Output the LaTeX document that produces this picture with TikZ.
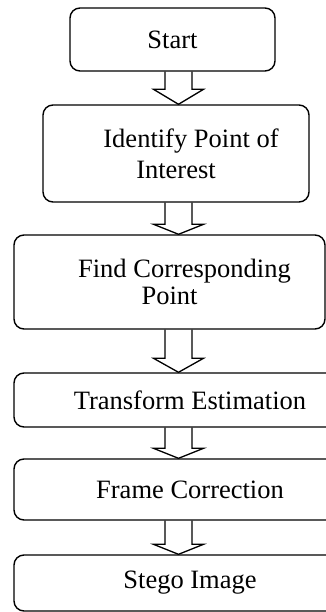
\documentclass[tikz,border=0pt]{standalone}
\usepackage{fontspec}
\setmainfont{Liberation Serif}
\usepackage{tikz}
\usetikzlibrary{calc}
\tikzset{
  bx/.style={draw=black,line width=1.4pt,rounded corners=10pt,align=center,
             inner sep=0pt,font=\fontsize{26.5}{31}\selectfont},
  hollow/.style={draw=black,line width=1.3pt,line join=miter,
    to path={
      ($(\tikztostart.south -| axis)+(-13.5,0)$)
        -- ($(\tikztotarget.north -| axis)+(-13.5,#1)$) -- ++(-11.5,0)
        -- (\tikztotarget.north -| axis) -- ++(25,#1) -- ++(-11.5,0)
        -- ($(\tikztostart.south -| axis)+(13.5,0)$)
    }},
}
\begin{document}
\begin{tikzpicture}[x=1pt,y=1pt]
  \useasboundingbox (0,0) rectangle (326,-612);
  \clip (0,0) rectangle (326,-612);
  \coordinate (axis) at (178.5,0);

  \node[bx,minimum width=205pt,minimum height=63pt] (start) at (172.5,-39.5) {Start};
  \node[bx,minimum width=266pt,minimum height=97pt] (ident) at (176,-153.5)
    {\hspace*{30pt}Identify Point of\\Interest};
  \node[bx,minimum width=311pt,minimum height=94pt] (match) at (169.5,-282)
    {\hspace*{30pt}Find Corresponding\\[-4pt]Point};
  % the last three boxes run past the right edge of the page
  \node[bx,minimum width=352pt,minimum height=54pt] (trans) at (190,-400) {Transform Estimation};
  \node[bx,minimum width=352pt,minimum height=61pt] (frame) at (190,-489.5) {Frame Correction};
  \node[bx,minimum width=352pt,minimum height=56pt] (stego) at (190,-583) {Stego Image};

  \draw[hollow=15] (start) to (ident);
  \draw[hollow=10] (ident) to (match);
  \draw[hollow=14] (match) to (trans);
  \draw[hollow=10] (trans) to (frame);
  \draw[hollow=10] (frame) to (stego);
\end{tikzpicture}
\end{document}
